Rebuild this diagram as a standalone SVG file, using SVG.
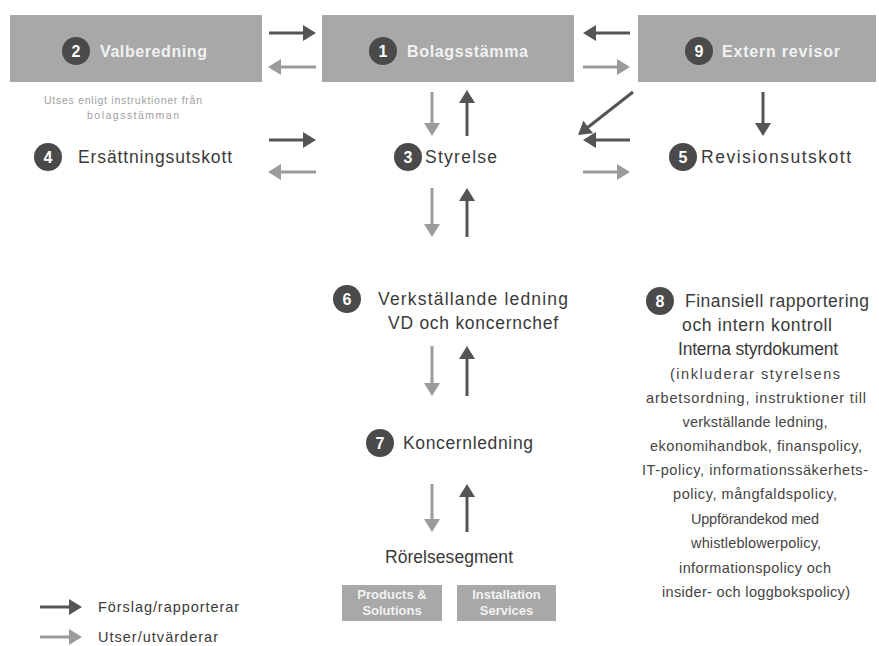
<svg xmlns="http://www.w3.org/2000/svg" width="879" height="646" viewBox="0 0 879 646">
<style>
.box{fill:#a8a8a8}
.bt{font-family:"Liberation Sans",Arial,sans-serif;font-size:16px;font-weight:bold;fill:#f2f2f2}
.t{font-family:"Liberation Sans",Arial,sans-serif;font-size:17.5px;fill:#3a3a3a}
.m{font-family:"Liberation Sans",Arial,sans-serif;font-size:17.5px;fill:#3a3a3a}
.s{font-family:"Liberation Sans",Arial,sans-serif;font-size:14.5px;fill:#444;text-anchor:middle}
.n{fill:#4a4a4a}
.nt{font-family:"Liberation Sans",Arial,sans-serif;font-size:16px;font-weight:bold;fill:#fff;text-anchor:middle}
.d{stroke:#555;stroke-width:3;fill:none;marker-end:url(#hd)}
.l{stroke:#9b9b9b;stroke-width:3;fill:none;marker-end:url(#hl)}
</style>
<defs>
<marker id="hd" viewBox="0 0 13 16" refX="2" refY="8" markerWidth="13" markerHeight="16" orient="auto" markerUnits="userSpaceOnUse"><path d="M0,0 L13,8 L0,16 Z" fill="#555"/></marker>
<marker id="hl" viewBox="0 0 13 16" refX="2" refY="8" markerWidth="13" markerHeight="16" orient="auto" markerUnits="userSpaceOnUse"><path d="M0,0 L13,8 L0,16 Z" fill="#9b9b9b"/></marker>
</defs>
<rect width="879" height="646" fill="#fff"/>

<g id="valberedning">
<rect class="box" x="10" y="15" width="252" height="67"/>
<circle class="n" cx="76" cy="51" r="14"/><text class="nt" x="76" y="57">2</text>
<text class="bt" x="100" y="57" textLength="107" lengthAdjust="spacing">Valberedning</text>
<text x="123" y="104" style="font-family:'Liberation Sans',Arial,sans-serif;font-size:10.5px;fill:#a0a0a0;text-anchor:middle" textLength="158" lengthAdjust="spacing">Utses enligt instruktioner från</text>
<text x="133" y="119" style="font-family:'Liberation Sans',Arial,sans-serif;font-size:10.5px;fill:#a0a0a0;text-anchor:middle" textLength="92" lengthAdjust="spacing">bolagsstämman</text>
</g>
<g id="bolagsstamma">
<rect class="box" x="322" y="15" width="252" height="67"/>
<circle class="n" cx="383" cy="51" r="14"/><text class="nt" x="383" y="57">1</text>
<text class="bt" x="407" y="57" textLength="121" lengthAdjust="spacing">Bolagsstämma</text>
</g>
<g id="extern-revisor">
<rect class="box" x="638" y="15" width="238" height="67"/>
<circle class="n" cx="699" cy="51" r="14"/><text class="nt" x="699" y="57">9</text>
<text class="bt" x="722" y="57" textLength="118" lengthAdjust="spacing">Extern revisor</text>
</g>
<g id="ersattningsutskott">
<circle class="n" cx="48" cy="157" r="14"/><text class="nt" x="48" y="163">4</text>
<text class="t" x="78" y="163" textLength="154" lengthAdjust="spacing">Ersättningsutskott</text>
</g>
<g id="styrelse">
<circle class="n" cx="408" cy="157" r="14"/><text class="nt" x="408" y="163">3</text>
<text class="t" x="425" y="163" textLength="72" lengthAdjust="spacing">Styrelse</text>
</g>
<g id="revisionsutskott">
<circle class="n" cx="683" cy="157" r="14"/><text class="nt" x="683" y="163">5</text>
<text class="t" x="701" y="163" textLength="150" lengthAdjust="spacing">Revisionsutskott</text>
</g>
<g id="verkstallande">
<circle class="n" cx="347" cy="299" r="14"/><text class="nt" x="347" y="305">6</text>
<text class="m" x="378" y="305" textLength="190" lengthAdjust="spacing">Verkställande ledning</text>
<text class="m" x="473" y="329" style="text-anchor:middle" textLength="170" lengthAdjust="spacing">VD och koncernchef</text>
</g>
<g id="koncernledning">
<circle class="n" cx="380" cy="443" r="14"/><text class="nt" x="380" y="449">7</text>
<text class="m" x="403" y="449" textLength="130" lengthAdjust="spacing">Koncernledning</text>
</g>
<g id="rorelsesegment">
<text class="m" x="449" y="563" style="text-anchor:middle" textLength="128" lengthAdjust="spacing">Rörelsesegment</text>
<rect class="box" x="342" y="585" width="100" height="36"/>
<text class="bt" x="392" y="599" style="font-size:13px;text-anchor:middle">Products &amp;</text>
<text class="bt" x="392" y="615" style="font-size:13px;text-anchor:middle">Solutions</text>
<rect class="box" x="457" y="585" width="99" height="36"/>
<text class="bt" x="506.5" y="599" style="font-size:13px;text-anchor:middle">Installation</text>
<text class="bt" x="506.5" y="615" style="font-size:13px;text-anchor:middle">Services</text>
</g>
<g id="finansiell">
<circle class="n" cx="660" cy="301" r="14"/><text class="nt" x="660" y="307">8</text>
<text class="m" x="685" y="307" textLength="184" lengthAdjust="spacing">Finansiell rapportering</text>
<text class="m" x="757" y="331" style="text-anchor:middle" textLength="150" lengthAdjust="spacing">och intern kontroll</text>
<text class="m" x="758" y="355" style="text-anchor:middle" textLength="160" lengthAdjust="spacing">Interna styrdokument</text>
<text class="s" x="755" y="379" textLength="170" lengthAdjust="spacing">(inkluderar styrelsens</text>
<text class="s" x="756" y="403" textLength="220" lengthAdjust="spacing">arbetsordning, instruktioner till</text>
<text class="s" x="755" y="427" textLength="145" lengthAdjust="spacing">verkställande ledning,</text>
<text class="s" x="756" y="451" textLength="212" lengthAdjust="spacing">ekonomihandbok, finanspolicy,</text>
<text class="s" x="755" y="475" textLength="226" lengthAdjust="spacing">IT-policy, informationssäkerhets-</text>
<text class="s" x="755" y="499" textLength="164" lengthAdjust="spacing">policy, mångfaldspolicy,</text>
<text class="s" x="755" y="524" textLength="128" lengthAdjust="spacing">Uppförandekod med</text>
<text class="s" x="756" y="548" textLength="130" lengthAdjust="spacing">whistleblowerpolicy,</text>
<text class="s" x="755" y="573" textLength="152" lengthAdjust="spacing">informationspolicy och</text>
<text class="s" x="756" y="597" textLength="188" lengthAdjust="spacing">insider- och loggbokspolicy)</text>
</g>
<g id="legend">
<path class="d" d="M40,607 H71"/>
<text class="t" x="98" y="612" style="font-size:14.5px" textLength="141" lengthAdjust="spacing">Förslag/rapporterar</text>
<path class="l" d="M40,637 H71"/>
<text class="t" x="98" y="642" style="font-size:14.5px" textLength="120" lengthAdjust="spacing">Utser/utvärderar</text>
</g>

<g id="connectors">
<path class="d" d="M269,33 H305"/>
<path class="l" d="M316,67 H279"/>
<path class="d" d="M630,33 H594"/>
<path class="l" d="M583,67 H619"/>
<path class="l" d="M432,92 V125"/>
<path class="d" d="M467,136 V101"/>
<path class="d" d="M633,92 L586.7,128.2"/>
<path class="d" d="M763,92 V125"/>
<path class="d" d="M269,140 H305"/>
<path class="l" d="M316,172 H279"/>
<path class="d" d="M630,140 H594"/>
<path class="l" d="M583,172 H619"/>
<path class="l" d="M432,188 V226"/>
<path class="d" d="M467,237 V199"/>
<path class="l" d="M432,346 V385"/>
<path class="d" d="M467,396 V357"/>
<path class="l" d="M432,484 V521"/>
<path class="d" d="M467,532 V495"/>
</g>
</svg>
